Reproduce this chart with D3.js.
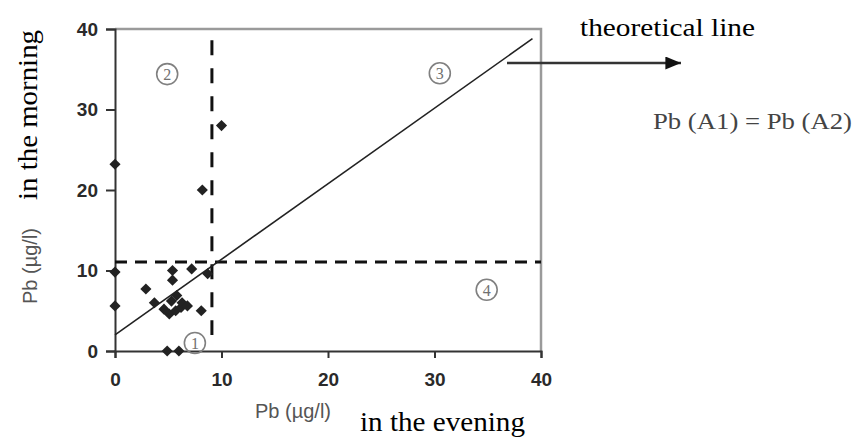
<!DOCTYPE html>
<html>
<head>
<meta charset="utf-8">
<script src="https://cdn.jsdelivr.net/npm/d3@7"></script>
<style>
  body { margin: 0; background: #fff; }
  svg { display: block; }
</style>
</head>
<body>
<svg id="chart" width="858" height="439"></svg>
<script>
// Pb evening (x) vs morning (y)
var evening = [0, 0, 0, 10, 8.2, 2.9, 3.7, 5.4, 5.4, 7.2, 8.7, 4.6, 5.1, 5.3, 5.7, 5.8, 6.2, 6.3, 6.8, 8.1, 4.9, 6.0];
var morning = [23.2, 9.8, 5.6, 28, 20, 7.7, 6.0, 10.0, 8.8, 10.2, 9.6, 5.2, 4.6, 6.2, 5.0, 6.9, 5.4, 6.0, 5.6, 5.0, 0, 0];
var tickValues = [0, 10, 20, 30, 40];
var lineX = [0, 39.2];
var lineY = [2.0, 38.8];
var cutX = 9.1;
var cutY = 11.05;
var zones = ['1', '2', '3', '4'];
var zoneX = [7.5, 4.9, 30.5, 34.9];
var zoneY = [1.0, 34.4, 34.5, 7.6];

var sans = '"Liberation Sans", Arial, sans-serif';
var serif = '"Liberation Serif", "Times New Roman", serif';

var svg = d3.select('#chart');
var x = d3.scaleLinear().domain([0, 40]).range([115, 541]);
var y = d3.scaleLinear().domain([0, 40]).range([351, 29]);

// frame (top and right)
svg.append('path')
  .attr('d', 'M' + x(0) + ',' + y(40) + 'H' + x(40) + 'V' + y(0))
  .attr('fill', 'none').attr('stroke', '#9a9a9a').attr('stroke-width', 2.5);

var xAxis = svg.append('g').attr('transform', 'translate(0,' + y(0) + ')')
  .call(d3.axisBottom(x).tickValues(tickValues).tickSize(7).tickPadding(15));
var yAxis = svg.append('g').attr('transform', 'translate(' + x(0) + ',0)')
  .call(d3.axisLeft(y).tickValues(tickValues).tickSize(9).tickPadding(8));

[xAxis, yAxis].forEach(function (g) {
  g.select('.domain').attr('stroke', '#333').attr('stroke-width', 2);
  g.selectAll('.tick line').attr('stroke', '#333').attr('stroke-width', 2);
  g.selectAll('.tick text')
    .attr('fill', '#2a2a2a')
    .style('font-family', sans)
    .style('font-size', '19px')
    .style('font-weight', 'bold');
});

// dashed cut lines
svg.append('line')
  .attr('x1', x(cutX)).attr('x2', x(cutX))
  .attr('y1', y(38.6)).attr('y2', y(2.0))
  .attr('stroke', '#111').attr('stroke-width', 3).attr('stroke-dasharray', '15,13');
svg.append('line')
  .attr('x1', x(0)).attr('x2', x(40))
  .attr('y1', y(cutY)).attr('y2', y(cutY))
  .attr('stroke', '#111').attr('stroke-width', 3).attr('stroke-dasharray', '12,8');

// theoretical line
svg.append('line')
  .attr('x1', x(lineX[0])).attr('y1', y(lineY[0]))
  .attr('x2', x(lineX[1])).attr('y2', y(lineY[1]))
  .attr('stroke', '#222').attr('stroke-width', 1.6);

// points
svg.selectAll('.pt').data(evening).enter().append('path')
  .attr('class', 'pt')
  .attr('transform', function (d, i) { return 'translate(' + x(d) + ',' + y(morning[i]) + ') rotate(45)'; })
  .attr('d', d3.symbol().type(d3.symbolSquare).size(62))
  .attr('fill', '#222');

// zone labels (circled numbers)
var zg = svg.selectAll('.zone').data(zones).enter().append('g')
  .attr('class', 'zone')
  .attr('transform', function (d, i) { return 'translate(' + x(zoneX[i]) + ',' + y(zoneY[i]) + ')'; });
zg.append('circle').attr('r', 10.5)
  .attr('fill', 'none').attr('stroke', '#808080').attr('stroke-width', 1.6);
zg.append('text')
  .attr('text-anchor', 'middle').attr('dy', '0.36em')
  .attr('fill', '#707070')
  .style('font-family', serif)
  .style('font-size', '16px')
  .text(function (d) { return d; });

// axis titles
svg.append('text').attr('x', 293).attr('y', 418).attr('text-anchor', 'middle')
  .attr('fill', '#555').style('font-family', sans).style('font-size', '20px').text('Pb (µg/l)');
svg.append('text').attr('x', 360).attr('y', 431)
  .attr('textLength', 165).attr('lengthAdjust', 'spacingAndGlyphs')
  .attr('fill', '#000').style('font-family', serif).style('font-size', '27px').text('in the evening');
svg.append('text').attr('transform', 'translate(37,266) rotate(-90)').attr('text-anchor', 'middle')
  .attr('fill', '#555').style('font-family', sans).style('font-size', '20px').text('Pb (µg/l)');
svg.append('text').attr('transform', 'translate(37,200) rotate(-90)')
  .attr('textLength', 170).attr('lengthAdjust', 'spacingAndGlyphs')
  .attr('fill', '#000').style('font-family', serif).style('font-size', '27px').text('in the morning');

// annotation
svg.append('defs').append('marker')
  .attr('id', 'arrow').attr('viewBox', '0 0 12 10').attr('refX', 12).attr('refY', 5)
  .attr('markerUnits', 'userSpaceOnUse')
  .attr('markerWidth', 16).attr('markerHeight', 13).attr('orient', 'auto')
  .append('path').attr('d', 'M0,0L12,5L0,10Z').attr('fill', '#111');
svg.append('line')
  .attr('x1', 507).attr('y1', 63).attr('x2', 681).attr('y2', 63)
  .attr('stroke', '#333').attr('stroke-width', 2.5).attr('marker-end', 'url(#arrow)');
svg.append('text').attr('x', 580).attr('y', 36)
  .attr('textLength', 175).attr('lengthAdjust', 'spacingAndGlyphs')
  .attr('fill', '#000').style('font-family', serif).style('font-size', '26px').text('theoretical line');
svg.append('text').attr('x', 653).attr('y', 129)
  .attr('textLength', 199).attr('lengthAdjust', 'spacingAndGlyphs')
  .attr('fill', '#444').style('font-family', serif).style('font-size', '24px').text('Pb (A1) = Pb (A2)');
</script>
</body>
</html>
